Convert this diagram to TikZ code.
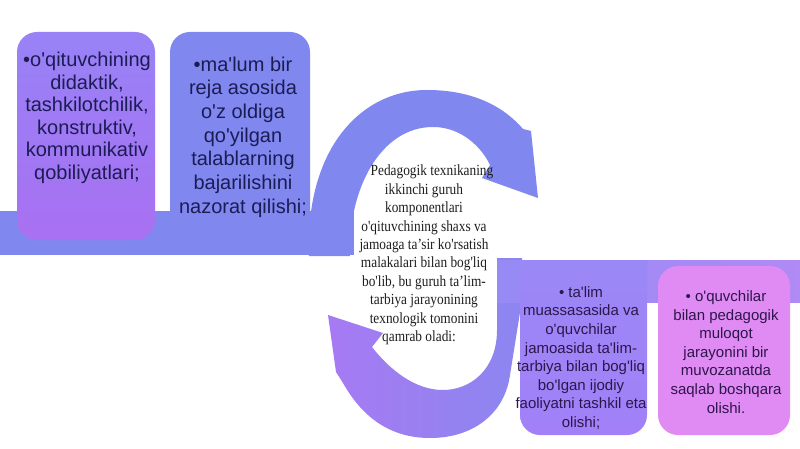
\documentclass[tikz,border=0pt]{standalone}
\usepackage{fontspec}
\setmainfont{Liberation Serif}
\newfontfamily\sansf{Liberation Sans}
\newfontfamily\serifc[FakeStretch=0.86]{Liberation Serif}
\definecolor{peri}{RGB}{128,136,240}
\definecolor{boxatop}{RGB}{152,130,246}
\definecolor{boxabot}{RGB}{168,112,242}
\definecolor{lowL}{RGB}{166,122,242}
\definecolor{lowR}{RGB}{140,134,240}
\definecolor{bandL}{RGB}{150,138,245}
\definecolor{bandR}{RGB}{176,138,245}
\definecolor{boxctop}{RGB}{154,136,246}
\definecolor{boxcbot}{RGB}{162,128,248}
\definecolor{boxd}{RGB}{224,138,244}
\definecolor{navytext}{RGB}{28,28,85}
\definecolor{purptext}{RGB}{45,22,75}
\definecolor{midtext}{RGB}{30,30,30}
\tikzset{
  bigtext/.style={font=\sansf\fontsize{20}{22.5}\selectfont, align=center, text=navytext, inner sep=0pt},
  smalltext/.style={font=\sansf\fontsize{15}{18.6}\selectfont, align=center, text=purptext, inner sep=0pt},
  centertext/.style={font=\serifc\fontsize{15.5}{18.4}\selectfont, align=center, text=midtext, inner sep=0pt}
}
\begin{document}
\begin{tikzpicture}[x=1pt,y=-1pt]
\useasboundingbox (0,0) rectangle (800,449);
\fill[white] (0,0) rectangle (800,449);
% top band and box 2
\fill[peri] (0,211) rectangle (354,255);
\fill[peri, rounded corners=20] (170,32) rectangle (310,250);
% box 1
\shade[top color=boxatop, bottom color=boxabot, rounded corners=20] (17,32) rectangle (155,240);
% upper arrow
\fill[peri] (309,256) .. controls (305,150) and (360,90) .. (427,90)
  .. controls (475,90) and (505,108) .. (523,129) -- (531,131) -- (538,198)
  -- (482,178) -- (490,165) .. controls (482,148) and (462,127) .. (433,127)
  .. controls (380,127) and (348,190) .. (350,256) -- cycle;
% lower arrow
\shade[left color=lowL, right color=lowR] (497,258) -- (497,330)
  .. controls (497,370) and (470,390) .. (443,390)
  .. controls (415,390) and (390,370) .. (372,347) -- (383,333) -- (328,315)
  -- (336,372) -- (343,383) .. controls (365,422) and (395,438) .. (430,438)
  .. controls (475,438) and (505,412) .. (510,375) -- (522,300) -- (522,258) -- cycle;
% bottom band and boxes
\shade[left color=bandL, right color=bandR] (497,260) rectangle (800,302);
\shade[top color=boxctop, bottom color=boxcbot] (520,260) {[rounded corners=20] -- (520,435) -- (647,435)} -- (647,260) -- cycle;
\fill[boxd, rounded corners=20] (658,266) rectangle (790,435);
% texts
\node[bigtext] (ta) at (87,118) {•o'qituvchining\\didaktik,\\tashkilotchilik,\\konstruktiv,\\kommunikativ\\qobiliyatlari;};
\node[bigtext, font=\sansf\fontsize{20}{23.7}\selectfont] (tb) at (243,137) {•ma'lum bir\\reja asosida\\o'z oldiga\\qo'yilgan\\talablarning\\bajarilishini\\nazorat qilishi;};
\node[centertext] (tc) at (424,255) {\hspace*{16pt}Pedagogik texnikaning\\ikkinchi guruh\\komponentlari\\o'qituvchining shaxs va\\jamoaga ta’sir ko'rsatish\\malakalari bilan bog'liq\\bo'lib, bu guruh ta’lim-\\tarbiya jarayonining\\texnologik tomonini\\qamrab oladi:\hspace*{10pt}};
\node[smalltext] (td) at (581,358) {• ta'lim\\muassasasida va\\o'quvchilar\\jamoasida ta'lim-\\tarbiya bilan bog'liq\\bo'lgan ijodiy\\faoliyatni tashkil eta\\olishi;};
\node[smalltext] (te) at (726,352) {• o'quvchilar\\bilan pedagogik\\muloqot\\jarayonini bir\\muvozanatda\\saqlab boshqara\\olishi.};
\end{tikzpicture}
\end{document}
